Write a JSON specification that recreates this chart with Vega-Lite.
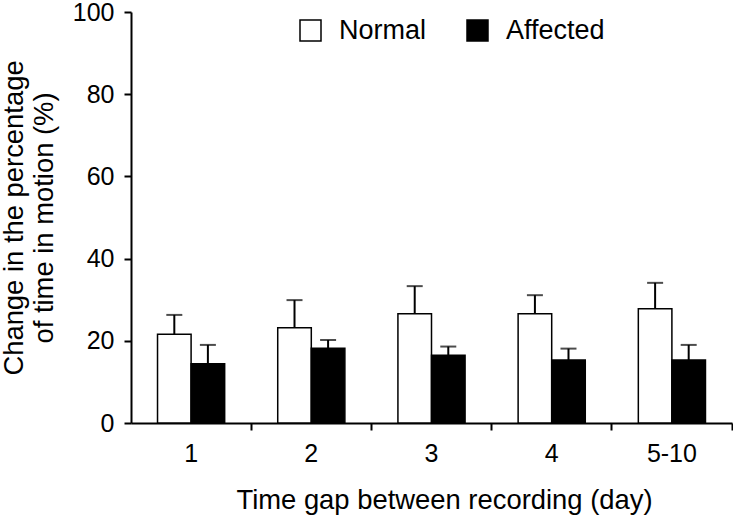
{
  "$schema": "https://vega.github.io/schema/vega-lite/v6.json",
  "autosize": "none",
  "width": 601,
  "height": 411,
  "padding": {"left": 131, "top": 12, "right": 1, "bottom": 93},
  "background": "white",
  "config": {
    "view": {"stroke": null},
    "font": "Liberation Sans",
    "axis": {
      "domainColor": "black", "domainWidth": 2, "tickColor": "black", "tickWidth": 2,
      "labelColor": "black", "titleColor": "black", "labelFont": "Liberation Sans", "titleFont": "Liberation Sans",
      "titleFontWeight": "normal", "grid": false
    },
    "legend": {"labelFont": "Liberation Sans"}
  },
  "data": {
    "values": [
      {"day": "1", "group": "Normal", "mean": 21.6, "upper": 26.3},
      {"day": "1", "group": "Affected", "mean": 14.4, "upper": 19.0},
      {"day": "2", "group": "Normal", "mean": 23.2, "upper": 29.9},
      {"day": "2", "group": "Affected", "mean": 18.2, "upper": 20.2},
      {"day": "3", "group": "Normal", "mean": 26.6, "upper": 33.3},
      {"day": "3", "group": "Affected", "mean": 16.5, "upper": 18.6},
      {"day": "4", "group": "Normal", "mean": 26.6, "upper": 31.1},
      {"day": "4", "group": "Affected", "mean": 15.3, "upper": 18.1},
      {"day": "5-10", "group": "Normal", "mean": 27.8, "upper": 34.1},
      {"day": "5-10", "group": "Affected", "mean": 15.3, "upper": 19.0}
    ]
  },
  "encoding": {
    "x": {
      "field": "day", "type": "nominal", "sort": ["1", "2", "3", "4", "5-10"],
      "scale": {"paddingInner": 0, "paddingOuter": 0},
      "axis": {
        "title": "Time gap between recording (day)", "titleFontSize": 27.4, "titlePadding": 20, "titleX": 313,
        "labelFontSize": 25, "labelAngle": 0, "labelPadding": 11, "tickSize": 7, "bandPosition": 1
      }
    },
    "xOffset": {
      "field": "group", "type": "nominal", "sort": ["Normal", "Affected"],
      "scale": {"paddingInner": 0, "paddingOuter": 0.79}
    }
  },
  "layer": [
    {
      "mark": {"type": "bar", "stroke": "black", "strokeWidth": 1.5},
      "encoding": {
        "y": {
          "field": "mean", "type": "quantitative",
          "scale": {"domain": [0, 100], "nice": false},
          "axis": {
            "values": [0, 20, 40, 60, 80, 100],
            "title": ["Change in the percentage", "of time in motion (%)"],
            "titleFontSize": 27.4, "titleLineHeight": 30, "titlePadding": 14,
            "labelFontSize": 25, "labelPadding": 10, "tickSize": 7
          }
        },
        "fill": {
          "field": "group", "type": "nominal",
          "scale": {"domain": ["Normal", "Affected"], "range": ["white", "black"]},
          "legend": {
            "title": null, "orient": "none", "direction": "horizontal",
            "legendX": 166, "legendY": 5, "symbolType": "square", "symbolSize": 441,
            "symbolStrokeColor": "black", "symbolStrokeWidth": 1.5,
            "labelFontSize": 27, "labelColor": "black", "labelOffset": 15, "columnPadding": 37, "padding": 0
          }
        }
      }
    },
    {
      "mark": {"type": "rule", "color": "black", "strokeWidth": 2},
      "encoding": {
        "y": {"field": "mean", "type": "quantitative"},
        "y2": {"field": "upper"}
      }
    },
    {
      "mark": {"type": "tick", "color": "black", "size": 16, "thickness": 2},
      "encoding": {
        "y": {"field": "upper", "type": "quantitative"}
      }
    }
  ]
}
